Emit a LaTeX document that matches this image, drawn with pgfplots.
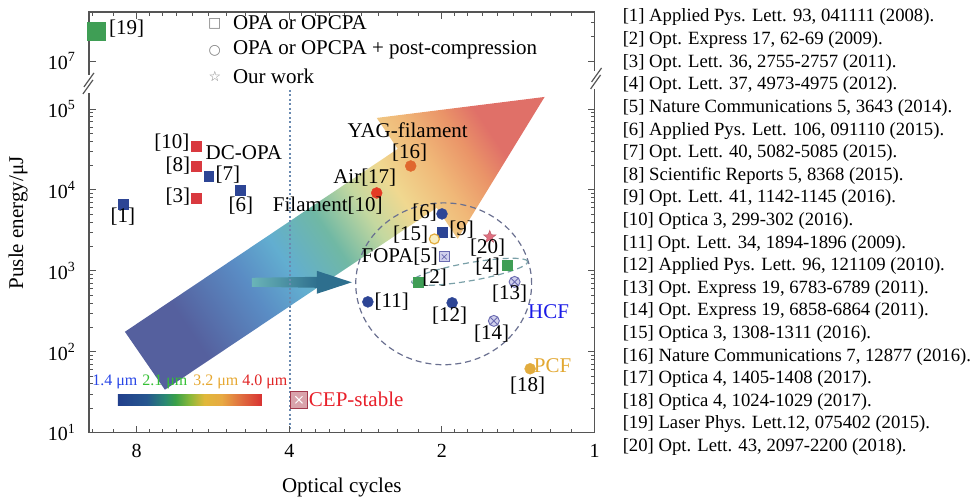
\documentclass[border=0pt]{standalone}
\usepackage{fontspec}
\setmainfont{Liberation Serif}
\newfontfamily\dejavu{DejaVu Sans}
\usepackage{pgfplots}
\pgfplotsset{compat=1.18}

\definecolor{axcol}{HTML}{555555}
\definecolor{mblue}{HTML}{2D4595}
\definecolor{mred}{HTML}{D9393F}
\definecolor{mgreen}{HTML}{3F9E55}
\definecolor{morange}{HTML}{E0672E}
\definecolor{mred2}{HTML}{E43A24}
\definecolor{mgold}{HTML}{E2AC3E}
\definecolor{mcream}{HTML}{F8EEC0}
\definecolor{mlav}{HTML}{D0D0EC}
\definecolor{mpurp}{HTML}{6A6AB0}
\definecolor{mpink}{HTML}{E07080}
\definecolor{cepfill}{HTML}{D9A3AB}
\definecolor{cepdraw}{HTML}{A33A4D}
\definecolor{dotcol}{HTML}{6A8AB0}
\definecolor{circcol}{HTML}{6A7090}
\definecolor{ellcol}{HTML}{7AA0A8}
\definecolor{sabg}{HTML}{6AB4B8}
\definecolor{sadk}{HTML}{2E6F8E}
\definecolor{hcf}{HTML}{1A1AE6}
\definecolor{pcf}{HTML}{E2A832}
\definecolor{cep}{HTML}{E8202A}
\definecolor{um1}{HTML}{2846E6}
\definecolor{um2}{HTML}{35C035}
\definecolor{um3}{HTML}{E6A832}
\definecolor{um4}{HTML}{E02525}

\definecolor{ag0}{HTML}{55609E}
\definecolor{ag1}{HTML}{5A8CC4}
\definecolor{ag2}{HTML}{62AED0}
\definecolor{ag3}{HTML}{70B8A4}
\definecolor{ag4}{HTML}{C4D8A0}
\definecolor{ag5}{HTML}{F0D890}
\definecolor{ag6}{HTML}{F0B878}
\definecolor{ag7}{HTML}{EA9468}
\definecolor{ag8}{HTML}{E07068}
\pgfdeclarehorizontalshading{arrowgrad}{100bp}{color(0bp)=(ag0); color(27bp)=(ag0); color(37bp)=(ag1); color(43bp)=(ag2); color(50bp)=(ag3); color(56bp)=(ag4); color(61bp)=(ag5); color(67bp)=(ag6); color(72bp)=(ag7); color(76bp)=(ag8); color(100bp)=(ag8)}

\definecolor{cb0}{HTML}{213F8C}
\definecolor{cb1}{HTML}{26568F}
\definecolor{cb2}{HTML}{2A8A72}
\definecolor{cb3}{HTML}{3AA048}
\definecolor{cb4}{HTML}{8AB83A}
\definecolor{cb5}{HTML}{E0B83A}
\definecolor{cb6}{HTML}{E8AA42}
\definecolor{cb7}{HTML}{E07040}
\definecolor{cb8}{HTML}{D83232}
\pgfdeclarehorizontalshading{cbar}{100bp}{color(0bp)=(cb0); color(25bp)=(cb0); color(35bp)=(cb1); color(41.5bp)=(cb2); color(45bp)=(cb3); color(50bp)=(cb4); color(55bp)=(cb5); color(61bp)=(cb6); color(67.5bp)=(cb7); color(75bp)=(cb8); color(100bp)=(cb8)}

\pgfdeclareplotmark{fstar}{%
  \pgfpathmoveto{\pgfpointpolar{90}{\pgfplotmarksize}}%
  \pgfpathlineto{\pgfpointpolar{126}{0.42\pgfplotmarksize}}%
  \pgfpathlineto{\pgfpointpolar{162}{\pgfplotmarksize}}%
  \pgfpathlineto{\pgfpointpolar{198}{0.42\pgfplotmarksize}}%
  \pgfpathlineto{\pgfpointpolar{234}{\pgfplotmarksize}}%
  \pgfpathlineto{\pgfpointpolar{270}{0.42\pgfplotmarksize}}%
  \pgfpathlineto{\pgfpointpolar{306}{\pgfplotmarksize}}%
  \pgfpathlineto{\pgfpointpolar{342}{0.42\pgfplotmarksize}}%
  \pgfpathlineto{\pgfpointpolar{18}{\pgfplotmarksize}}%
  \pgfpathlineto{\pgfpointpolar{54}{0.42\pgfplotmarksize}}%
  \pgfpathclose\pgfusepathqfillstroke}

\newcommand{\lbl}{\fontsize{21}{25}\selectfont}
\newcommand{\refs}{\fontsize{18.7}{22.6}\selectfont}

\begin{document}
\begin{tikzpicture}
\begin{scope}[x=1pt,y=1pt]
\path[use as bounding box] (0,0) rectangle (971,499);
% big gradient arrow
\shade[shading=arrowgrad, shading angle=33.8] (125,499-332) -- (398,499-149) -- (377,499-118) -- (545,499-97) -- (458,499-239) -- (437,499-208) -- (165,499-390) -- cycle;
% small arrow
\shade[left color=sabg, right color=sadk] (252,499-278) -- (318,499-277) -- (318,499-288) -- (252,499-287) -- cycle;
\fill[sadk] (317,499-271) -- (352,499-282.5) -- (317,499-294) -- cycle;
% dotted line at 4 cycles
\draw[dotcol, line width=2pt, dash pattern=on 2pt off 2.5pt] (290,499-90) -- (290,499-433);
% HCF circle
\draw[circcol, line width=1.2pt, dash pattern=on 6pt off 4pt] (444,499-284) ellipse [x radius=88, y radius=81];
\draw[ellcol, line width=1.2pt, dash pattern=on 6pt off 4pt, rotate around={10:(470,499-272)}] (470,499-272) ellipse [x radius=59, y radius=9];
% colour bar
\shade[shading=cbar] (118,499-406) rectangle (262,499-395);
\node[um1, font=\fontsize{16}{18}\selectfont, inner sep=0] at (115,499-382) {1.4 μm};
\node[um2, font=\fontsize{16}{18}\selectfont, inner sep=0] at (165,499-382) {2.1 μm};
\node[um3, font=\fontsize{16}{18}\selectfont, inner sep=0] at (216,499-382) {3.2 μm};
\node[um4, font=\fontsize{16}{18}\selectfont, inner sep=0] at (265,499-382) {4.0 μm};
\end{scope}

\begin{axis}[
  at={(89pt,66pt)}, anchor=south west, scale only axis,
  width=506pt, height=421pt,
  xmode=log, x dir=reverse, xmin=1, xmax=9.94,
  ymode=log, ymin=10, ymax=1.585e6,
  xtick={1,2,4,8}, xticklabels={1,2,4,8},
  minor xtick={1.111,1.222,1.333,1.444,1.556,1.667,1.778,1.889,2.222,2.444,2.667,2.889,3.111,3.333,3.556,3.778,4.444,4.889,5.333,5.778,6.222,6.667,7.111,7.556,8.889,9.778},
  ytick={10,100,1000,10000,100000,391742},
  yticklabels={10\textsuperscript{1},10\textsuperscript{2},10\textsuperscript{3},10\textsuperscript{4},10\textsuperscript{5},10\textsuperscript{7}},
  minor ytick={20,30,40,50,60,70,80,90,200,300,400,500,600,700,800,900,2000,3000,4000,5000,6000,7000,8000,9000,20000,30000,40000,50000,60000,70000,80000,90000,7.86e5,1.18e6},
  xtick pos=both, ytick pos=both, tick align=inside,
  major tick length=7pt, minor tick length=4pt,
  axis line style={axcol, line width=1.3pt},
  every tick/.style={axcol, line width=1pt},
  tick label style={font=\fontsize{20}{24}\selectfont},
  /pgf/number format/assume math mode=true,
  yticklabel style={xshift=-10pt},
  xticklabel style={yshift=-8pt},
  clip=false,
]
% OPA / OPCPA squares
\addplot[only marks, mark=square*, mark size=5pt, mblue, forget plot] coordinates {(8.52,6760) (5.77,14900) (4.99,10000) (2.0,3030)};
\addplot[only marks, mark=square*, mark size=5pt, mred, forget plot] coordinates {(6.12,34900) (6.12,19800) (6.12,7950)};
\addplot[only marks, mark=square*, mark size=5pt, mgreen, forget plot] coordinates {(2.23,731) (1.49,1186)};
% [19]: above the axis break; about 2.3e7 uJ, drawn at its place on the broken scale (10^7 tick sits at 3.92e5)
\addplot[only marks, mark=square*, mark size=9pt, mgreen, forget plot] coordinates {(9.6,9.14e5)};
% [5] hatched square
\addplot[only marks, mark=square*, mark size=5pt, mark options={fill=mlav, draw=mpurp, line width=0.8pt}, forget plot] coordinates {(1.98,1490)};
\addplot[only marks, mark=x, mark size=3.5pt, mark options={draw=mpurp, line width=0.7pt}, forget plot] coordinates {(1.98,1490)};
% circles (post-compression)
\addplot[only marks, mark=*, mark size=5.5pt, mblue, forget plot] coordinates {(2.0,5060) (2.80,414) (1.91,403)};
\addplot[only marks, mark=*, mark size=5.5pt, mred2, forget plot] coordinates {(2.69,9190)};
\addplot[only marks, mark=*, mark size=5.5pt, morange, forget plot] coordinates {(2.305,19800)};
\addplot[only marks, mark=*, mark size=5.5pt, mgold, forget plot] coordinates {(1.34,61.7)};
\addplot[only marks, mark=*, mark size=5pt, mark options={fill=mcream, draw=mgold, line width=1.2pt}, forget plot] coordinates {(2.07,2480)};
\addplot[only marks, mark=otimes*, mark size=5.5pt, mark options={fill=mlav, draw=mpurp, line width=0.9pt}, forget plot] coordinates {(1.438,731) (1.58,241)};
% [20] our work
\addplot[only marks, mark=fstar, mark size=6.5pt, mark options={fill=mpink, draw=mpink!85!black, line width=0.5pt}, forget plot] coordinates {(1.61,2630)};
% CEP-stable symbol
\addplot[only marks, mark=square*, mark size=8.5pt, mark options={fill=cepfill, draw=cepdraw, line width=1.5pt}, forget plot] coordinates {(3.83,25.5)};
\addplot[only marks, mark=x, mark size=5pt, mark options={draw=white, line width=1pt}, forget plot] coordinates {(3.83,25.5)};
\end{axis}

\begin{scope}[x=1pt,y=1pt]
% axis breaks
\fill[white] (83,499-93) rectangle (95.5,499-75);
\draw[axcol, line width=1.2pt] (84,499-87) -- (94,499-73);
\draw[axcol, line width=1.2pt] (83,499-94) -- (93,499-80);
\fill[white] (591,499-89) rectangle (602,499-71);
\draw[axcol, line width=1.2pt] (592,499-82) -- (602,499-68);
\draw[axcol, line width=1.2pt] (591,499-89) -- (601,499-75);

% legend
\node[anchor=center, inner sep=0, gray, font=\dejavu\fontsize{14}{16}\selectfont] at (215,499-24) {□};
\node[anchor=center, inner sep=0, gray, font=\dejavu\fontsize{14}{16}\selectfont] at (215,499-51) {○};
\node[anchor=center, inner sep=0, gray, font=\dejavu\fontsize{14}{16}\selectfont] at (215,499-77) {☆};
\node[anchor=west, inner sep=0, font=\lbl] at (233,499-23) {OPA or OPCPA};
\node[anchor=west, inner sep=0, font=\lbl] at (233,499-50) {OPA or OPCPA + post-compression};
\node[anchor=west, inner sep=0, font=\lbl] at (233,499-76) {Our work};

% point labels
\begin{scope}[every node/.style={inner sep=0, font=\lbl}]
\node[anchor=west] at (109,499-29) {[19]};
\node at (123,499-217) {[1]};
\node at (172,499-143) {[10]};
\node at (178,499-166) {[8]};
\node at (178,499-197) {[3]};
\node at (228,499-175) {[7]};
\node at (241,499-206) {[6]};
\node at (244,499-153) {DC-OPA};
\node at (408,499-130) {YAG-filament};
\node at (410,499-153) {[16]};
\node at (365,499-178) {Air[17]};
\node at (328,499-206) {Filament[10]};
\node at (425,499-213) {[6]};
\node at (462,499-230) {[9]};
\node at (411,499-235) {[15]};
\node at (488,499-248) {[20]};
\node at (400,499-257) {FOPA[5]};
\node at (488,499-267) {[4]};
\node at (435,499-278) {[2]};
\node at (510,499-294) {[13]};
\node at (392,499-302) {[11]};
\node at (450,499-316) {[12]};
\node at (492,499-334) {[14]};
\node at (528,499-386) {[18]};
\node[hcf] at (549,499-312) {HCF};
\node[pcf] at (553,499-366) {PCF};
\node[cep, anchor=west] at (309,499-400) {CEP-stable};
\end{scope}

% axis labels
\node[rotate=90, inner sep=0, font=\lbl] at (18,499-223) {Pusle energy/μJ};
\node[inner sep=0, font=\lbl] at (342,499-488) {Optical cycles};

% reference list
\begin{scope}[every node/.style={anchor=base west, inner sep=0, font=\refs}]
\node at (623,499-22) {[1] Applied Pys. Lett. 93, 041111 (2008).};
\node at (623,499-44.6) {[2] Opt. Express 17, 62-69 (2009).};
\node at (623,499-67.3) {[3] Opt. Lett. 36, 2755-2757 (2011).};
\node at (623,499-89.9) {[4] Opt. Lett. 37, 4973-4975 (2012).};
\node at (623,499-112.5) {[5] Nature Communications 5, 3643 (2014).};
\node at (623,499-135.2) {[6] Applied Pys. Lett. 106, 091110 (2015).};
\node at (623,499-157.8) {[7] Opt. Lett. 40, 5082-5085 (2015).};
\node at (623,499-180.4) {[8] Scientific Reports 5, 8368 (2015).};
\node at (623,499-203.0) {[9] Opt. Lett. 41, 1142-1145 (2016).};
\node at (623,499-225.7) {[10] Optica 3, 299-302 (2016).};
\node at (623,499-248.3) {[11] Opt. Lett. 34, 1894-1896 (2009).};
\node at (623,499-270.9) {[12] Applied Pys. Lett. 96, 121109 (2010).};
\node at (623,499-293.6) {[13] Opt. Express 19, 6783-6789 (2011).};
\node at (623,499-316.2) {[14] Opt. Express 19, 6858-6864 (2011).};
\node at (623,499-338.8) {[15] Optica 3, 1308-1311 (2016).};
\node at (623,499-361.4) {[16] Nature Communications 7, 12877 (2016).};
\node at (623,499-384.1) {[17] Optica 4, 1405-1408 (2017).};
\node at (623,499-406.7) {[18] Optica 4, 1024-1029 (2017).};
\node at (623,499-429.3) {[19] Laser Phys. Lett.12, 075402 (2015).};
\node at (623,499-452.0) {[20] Opt. Lett. 43, 2097-2200 (2018).};
\end{scope}
\end{scope}
\end{tikzpicture}
\end{document}
